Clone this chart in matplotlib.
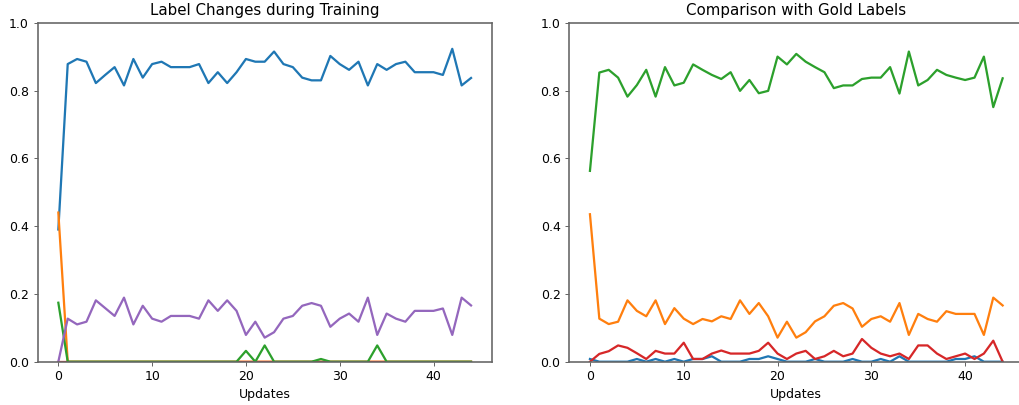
import matplotlib
matplotlib.use("Agg")
import matplotlib.pyplot as plt

updates = list(range(45))

# left panel: label changes during training
left_blue = [0.39, 0.878, 0.893, 0.885, 0.822, 0.846, 0.869, 0.815, 0.893, 0.838,
             0.878, 0.885, 0.869, 0.869, 0.869, 0.878, 0.822, 0.854, 0.822, 0.854,
             0.893, 0.885, 0.885, 0.915, 0.878, 0.869, 0.838, 0.830, 0.830, 0.902,
             0.878, 0.861, 0.885, 0.815, 0.878, 0.861, 0.878, 0.885, 0.854, 0.854,
             0.854, 0.846, 0.923, 0.815, 0.837]
left_orange = [0.44] + [0.0] * 44
left_green = [0.174, 0, 0, 0, 0, 0, 0, 0, 0, 0,
              0, 0, 0, 0, 0, 0, 0, 0, 0, 0,
              0.032, 0, 0.048, 0, 0, 0, 0, 0, 0.008, 0,
              0, 0, 0, 0, 0.048, 0, 0, 0, 0, 0,
              0, 0, 0, 0, 0]
left_red = [0.0] * 45
left_purple = [0.0, 0.127, 0.110, 0.118, 0.181, 0.158, 0.135, 0.189, 0.110, 0.165,
               0.127, 0.118, 0.135, 0.135, 0.135, 0.127, 0.181, 0.150, 0.181, 0.150,
               0.079, 0.118, 0.071, 0.087, 0.127, 0.135, 0.165, 0.173, 0.165, 0.103,
               0.127, 0.142, 0.118, 0.189, 0.079, 0.142, 0.127, 0.118, 0.150, 0.150,
               0.150, 0.157, 0.079, 0.189, 0.166]

# right panel: comparison with gold labels
right_blue = [0.008, 0, 0, 0, 0, 0.008, 0, 0.008, 0, 0.008,
              0, 0.008, 0.008, 0.016, 0, 0, 0, 0.008, 0.008, 0.016,
              0.008, 0, 0, 0, 0.008, 0, 0, 0, 0.008, 0,
              0, 0.008, 0, 0.016, 0, 0, 0, 0, 0, 0.008,
              0.008, 0.016, 0, 0, 0]
right_orange = [0.435, 0.127, 0.111, 0.118, 0.181, 0.150, 0.134, 0.181, 0.111, 0.158,
                0.127, 0.111, 0.126, 0.119, 0.134, 0.126, 0.181, 0.141, 0.173, 0.134,
                0.071, 0.118, 0.071, 0.087, 0.119, 0.134, 0.165, 0.173, 0.157, 0.103,
                0.126, 0.134, 0.118, 0.173, 0.079, 0.141, 0.126, 0.118, 0.149, 0.141,
                0.141, 0.141, 0.079, 0.189, 0.166]
right_green = [0.563, 0.853, 0.861, 0.838, 0.782, 0.816, 0.861, 0.782, 0.869, 0.815,
               0.823, 0.877, 0.861, 0.846, 0.834, 0.854, 0.799, 0.831, 0.792, 0.799,
               0.900, 0.877, 0.908, 0.885, 0.869, 0.854, 0.807, 0.815, 0.815, 0.834,
               0.838, 0.838, 0.869, 0.791, 0.915, 0.815, 0.831, 0.861, 0.846, 0.838,
               0.831, 0.838, 0.900, 0.751, 0.836]
right_red = [0.0, 0.023, 0.031, 0.048, 0.041, 0.025, 0.008, 0.032, 0.024, 0.024,
             0.056, 0.008, 0.008, 0.024, 0.033, 0.024, 0.024, 0.024, 0.032, 0.056,
             0.024, 0.008, 0.024, 0.032, 0.008, 0.016, 0.032, 0.016, 0.024, 0.067,
             0.041, 0.024, 0.016, 0.024, 0.008, 0.048, 0.048, 0.024, 0.008, 0.016,
             0.024, 0.008, 0.024, 0.062, 0.0]

fig = plt.figure(figsize=(1019 / 90, 405 / 90), dpi=90)
ax1 = fig.add_axes([0.0370, 0.1069, 0.4455, 0.837])
ax2 = fig.add_axes([0.5587, 0.1069, 0.4455, 0.837])

ax1.plot(updates, left_blue, color='C0', lw=1.8)
ax1.plot(updates, left_orange, color='C1', lw=1.8)
ax1.plot(updates, left_red, color='C3', lw=1.8)
ax1.plot(updates, left_green, color='C2', lw=1.8)
ax1.plot(updates, left_purple, color='C4', lw=1.8)
ax1.set_title('Label Changes during Training', fontsize=12)

ax2.plot(updates, right_blue, color='C0', lw=1.8)
ax2.plot(updates, right_orange, color='C1', lw=1.8)
ax2.plot(updates, right_green, color='C2', lw=1.8)
ax2.plot(updates, right_red, color='C3', lw=1.8)
ax2.set_title('Comparison with Gold Labels', fontsize=12)

for ax in (ax1, ax2):
    ax.set_ylim(0, 1.0)
    ax.set_xlabel('Updates', fontsize=10)
    ax.tick_params(labelsize=10, color='#666666')
    for sp in ax.spines.values():
        sp.set_color('#666666')
        sp.set_linewidth(1.3)

fig.savefig('out.png', dpi=90)
